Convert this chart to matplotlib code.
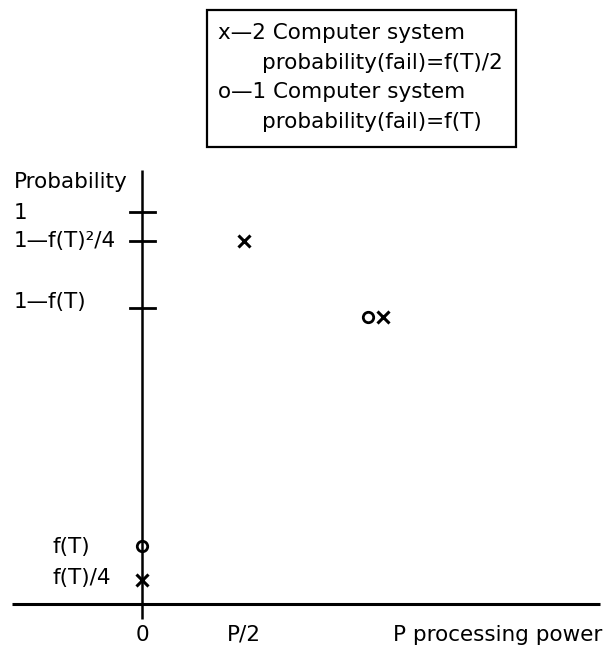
import matplotlib
matplotlib.use("Agg")
import matplotlib.pyplot as plt
from matplotlib.patches import Rectangle

# schematic levels on the probability axis (origin = 0, "1" = 1.0)
y_levels = [1.0, 0.926, 0.755]
y_level_labels = ["1", "1—f(T)²/4", "1—f(T)"]
low_labels = ["f(T)", "f(T)/4"]
low_label_y = [0.145, 0.066]

# processing power axis (P = 1.0)
x_ticks = [0.0, 0.406, 1.0]
x_tick_labels = ["0", "P/2", "P processing power"]

# 2 computer system (x)
two_x = [0.0, 0.406, 0.960]
two_y = [0.061, 0.926, 0.732]
# 1 computer system (o)
one_x = [0.0, 0.900]
one_y = [0.148, 0.732]

legend_lines = [
    "x—2 Computer system",
    "probability(fail)=f(T)/2",
    "o—1 Computer system",
    "probability(fail)=f(T)",
]

plt.rcParams["font.family"] = ["DejaVu Sans"]
FS = 15.5

W, H = 603, 652
fig = plt.figure(figsize=(W / 100, H / 100), dpi=100)
ax = fig.add_axes([0, 0, 1, 1])
ax.set_xlim(-142 / 251, (W - 142) / 251)
ax.set_ylim(-(H - 604) / 392, 604 / 392)
ax.axis("off")

# axes lines
ax.plot([-0.518, 1.825], [0, 0], color="black", lw=2.2, solid_capstyle="butt")
ax.plot([0, 0], [-0.038, 1.107], color="black", lw=1.8, solid_capstyle="butt")

# y ticks and labels
for y in y_levels:
    ax.plot([-0.048, 0.052], [y, y], color="black", lw=2)
ax.text(-0.510, 1.077, "Probability", fontsize=FS, va="center", ha="left")
ax.text(-0.510, 0.997, y_level_labels[0], fontsize=FS, va="center", ha="left")
ax.text(-0.510, y_levels[1], y_level_labels[1], fontsize=FS, va="center", ha="left")
ax.text(-0.510, 0.770, y_level_labels[2], fontsize=FS, va="center", ha="left")
for lab, y in zip(low_labels, low_label_y):
    ax.text(-0.355, y, lab, fontsize=FS, va="center", ha="left")

# x tick labels
ax.text(x_ticks[0], -0.079, x_tick_labels[0], fontsize=FS, va="center", ha="center")
ax.text(x_ticks[1], -0.079, x_tick_labels[1], fontsize=FS, va="center", ha="center")
ax.text(x_ticks[2], -0.079, x_tick_labels[2], fontsize=FS, va="center", ha="left")

# points
ax.plot(two_x, two_y, linestyle="none", marker="x", markersize=8,
        markeredgewidth=2.2, color="black")
ax.plot(one_x, one_y, linestyle="none", marker="o", markersize=7.5,
        markeredgewidth=2, markerfacecolor="none", color="black")

# legend box
fig.patches.append(Rectangle((207 / W, 1 - 147 / H), (516 - 207) / W, (147 - 10) / H,
                             transform=fig.transFigure, fill=False,
                             edgecolor="black", lw=1.6))
leg_x = [218, 262, 218, 262]
leg_y = [33, 63, 92, 122]
for txt, lx, ly in zip(legend_lines, leg_x, leg_y):
    fig.text(lx / W, 1 - ly / H, txt, fontsize=FS, va="center", ha="left")

fig.savefig("out.png", dpi=100)
